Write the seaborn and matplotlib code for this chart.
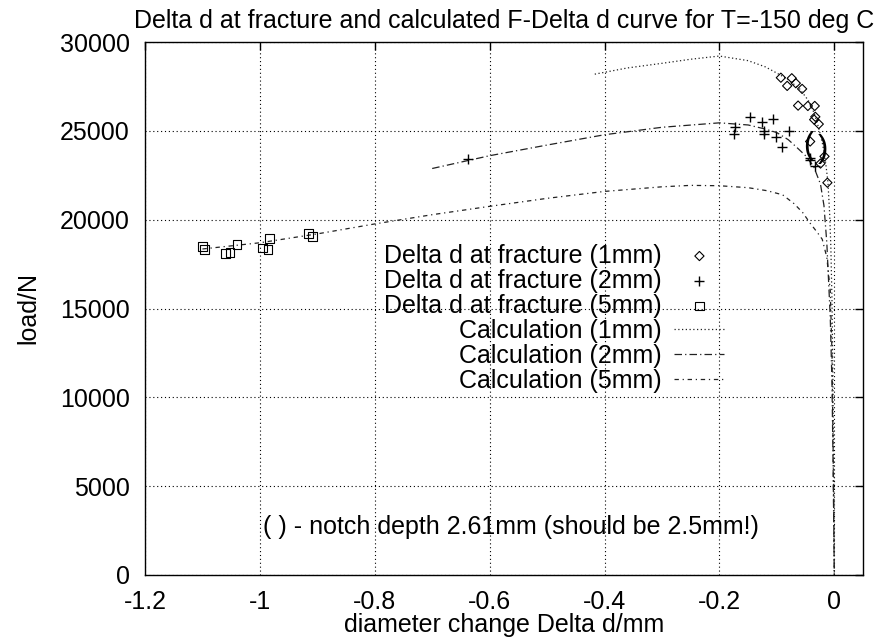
import numpy as np
import pandas as pd
import matplotlib
matplotlib.use("Agg")
import matplotlib.pyplot as plt
import seaborn as sns

# ---------------- data ----------------
frac_1mm_x = [-0.093, -0.082, -0.074, -0.067, -0.056, -0.063, -0.046, -0.034,
              -0.033, -0.035, -0.027, -0.042, -0.017, -0.024, -0.012]
frac_1mm_y = [27990, 27530, 27960, 27680, 27360, 26420, 26400, 26400,
              25790, 25630, 25380, 24400, 23560, 23160, 22080]

frac_2mm_x = [-0.147, -0.125, -0.106, -0.172, -0.175, -0.122, -0.122, -0.101,
              -0.078, -0.091, -0.043, -0.042, -0.033, -0.637]
frac_2mm_y = [25790, 25490, 25680, 25220, 24810, 25000, 24830, 24630,
              25000, 24100, 23470, 23370, 23030, 23390]

frac_5mm_x = [-1.100, -1.097, -1.060, -1.052, -1.040, -0.983, -0.995, -0.986,
              -0.915, -0.909]
frac_5mm_y = [18500, 18330, 18110, 18130, 18610, 18930, 18410, 18300,
              19210, 19050]

calc_1mm_x = [-0.417, -0.36, -0.30, -0.25, -0.20, -0.15, -0.12, -0.10, -0.08,
              -0.06, -0.045, -0.035, -0.027, -0.02, -0.015, -0.011, -0.008,
              -0.006, -0.004, -0.0025, -0.001, 0.0]
calc_1mm_y = [28190, 28540, 28800, 29030, 29210, 28950, 28600, 28250, 27880,
              27350, 26700, 26000, 25150, 24200, 23200, 22100, 20300,
              18500, 15500, 11500, 6000, 0]

calc_2mm_x = [-0.70, -0.60, -0.50, -0.40, -0.30, -0.20, -0.15, -0.12, -0.10,
              -0.08, -0.065, -0.05, -0.036, -0.024, -0.018, -0.013, -0.007,
              -0.004, -0.002, 0.0]
calc_2mm_y = [22880, 23600, 24200, 24780, 25200, 25450, 25330, 25100, 24900,
              24500, 24060, 23600, 23000, 22000, 20800, 18700, 14500,
              10800, 6000, 0]

calc_5mm_x = [-1.10, -1.00, -0.90, -0.80, -0.70, -0.60, -0.50, -0.40, -0.30,
              -0.25, -0.20, -0.15, -0.117, -0.09, -0.07, -0.055, -0.042,
              -0.030, -0.021, -0.013, -0.007, -0.004, -0.002, 0.0]
calc_5mm_y = [18350, 18700, 19200, 19760, 20280, 20750, 21200, 21590, 21850,
              21930, 21910, 21800, 21630, 21400, 20900, 20400, 19800,
              19300, 18900, 17880, 16010, 12500, 7000, 0]

labels = ["Delta d at fracture (1mm)", "Delta d at fracture (2mm)",
          "Delta d at fracture (5mm)", "Calculation (1mm)",
          "Calculation (2mm)", "Calculation (5mm)"]

x_ticks = [-1.2, -1.0, -0.8, -0.6, -0.4, -0.2, 0.0]
x_tick_labels = ["-1.2", "-1", "-0.8", "-0.6", "-0.4", "-0.2", "0"]
y_ticks = [0, 5000, 10000, 15000, 20000, 25000, 30000]

title = "Delta d at fracture and calculated F-Delta d curve for T=-150 deg C"
note = "( ) - notch depth 2.61mm (should be 2.5mm!)"

# ---------------- style ----------------
sns.set_theme(style="white")
plt.rcParams["font.family"] = ["Liberation Sans", "DejaVu Sans"]
plt.rcParams["text.color"] = "black"
plt.rcParams["axes.labelcolor"] = "black"
FS = 18

fig = plt.figure(figsize=(8.75, 6.43), dpi=100)
ax = fig.add_axes([145 / 875, 1 - 575 / 643, (863 - 145) / 875, (575 - 42) / 643])

lc = "#222222"
c1 = pd.DataFrame({"x": calc_1mm_x, "y": calc_1mm_y})
c2 = pd.DataFrame({"x": calc_2mm_x, "y": calc_2mm_y})
c5 = pd.DataFrame({"x": calc_5mm_x, "y": calc_5mm_y})
sns.lineplot(data=c1, x="x", y="y", sort=False, ax=ax, color=lc, lw=0.9,
             linestyle=(0, (1, 2)), label=labels[3])
sns.lineplot(data=c2, x="x", y="y", sort=False, ax=ax, color=lc, lw=0.9,
             linestyle=(0, (6, 2.5, 1, 2.5)), label=labels[4])
sns.lineplot(data=c5, x="x", y="y", sort=False, ax=ax, color=lc, lw=0.9,
             linestyle=(0, (3.5, 3, 1, 3)), label=labels[5])

f1 = pd.DataFrame({"x": frac_1mm_x, "y": frac_1mm_y})
f2 = pd.DataFrame({"x": frac_2mm_x, "y": frac_2mm_y})
f5 = pd.DataFrame({"x": frac_5mm_x, "y": frac_5mm_y})
sns.scatterplot(data=f1, x="x", y="y", ax=ax, marker="D", s=22,
                facecolor="none", edgecolor="black", linewidth=0.8,
                label=labels[0], zorder=3)
sns.scatterplot(data=f2, x="x", y="y", ax=ax, marker="+", s=50,
                color="black", linewidth=1.0, label=labels[1], zorder=3)
sns.scatterplot(data=f5, x="x", y="y", ax=ax, marker="s", s=40,
                facecolor="none", edgecolor="black", linewidth=0.8,
                label=labels[2], zorder=3)

ax.set_xlim(-1.2, 0.05)
ax.set_ylim(0, 30000)
ax.set_xticks(x_ticks)
ax.set_xticklabels(x_tick_labels)
ax.set_yticks(y_ticks)
ax.grid(True, color="black", linestyle=(0, (1, 2.5)), linewidth=0.8)
for s in ax.spines.values():
    s.set_color("black")
    s.set_linewidth(1.0)
ax.tick_params(axis="both", direction="in", length=6, width=1.0,
               top=True, right=True, labelsize=FS, colors="black")
ax.tick_params(axis="x", pad=11)
ax.tick_params(axis="y", pad=11)

ax.set_xlabel("diameter change Delta d/mm", fontsize=FS, labelpad=-1)
ax.set_ylabel("load/N", fontsize=FS, labelpad=14)
ax.set_title(title, fontsize=FS, pad=10)

# parentheses around the marked point
ax.text(-0.046, 24150, "(", fontsize=22, ha="center", va="center",
        color="black")
ax.text(-0.020, 23990, ")", fontsize=22, ha="center", va="center",
        color="black")
ax.text(-0.563, 2700, note, fontsize=FS, ha="center", va="center")

handles, labs = ax.get_legend_handles_labels()
hmap = dict(zip(labs, handles))
leg = ax.legend([hmap[l] for l in labels], labels, loc="center right",
                bbox_to_anchor=(0.807, 0.482), frameon=False, markerfirst=False,
                fontsize=FS, handlelength=2.0, handletextpad=0.5,
                labelspacing=0.04, borderpad=0, borderaxespad=0)

fig.savefig("out.png", dpi=100)
